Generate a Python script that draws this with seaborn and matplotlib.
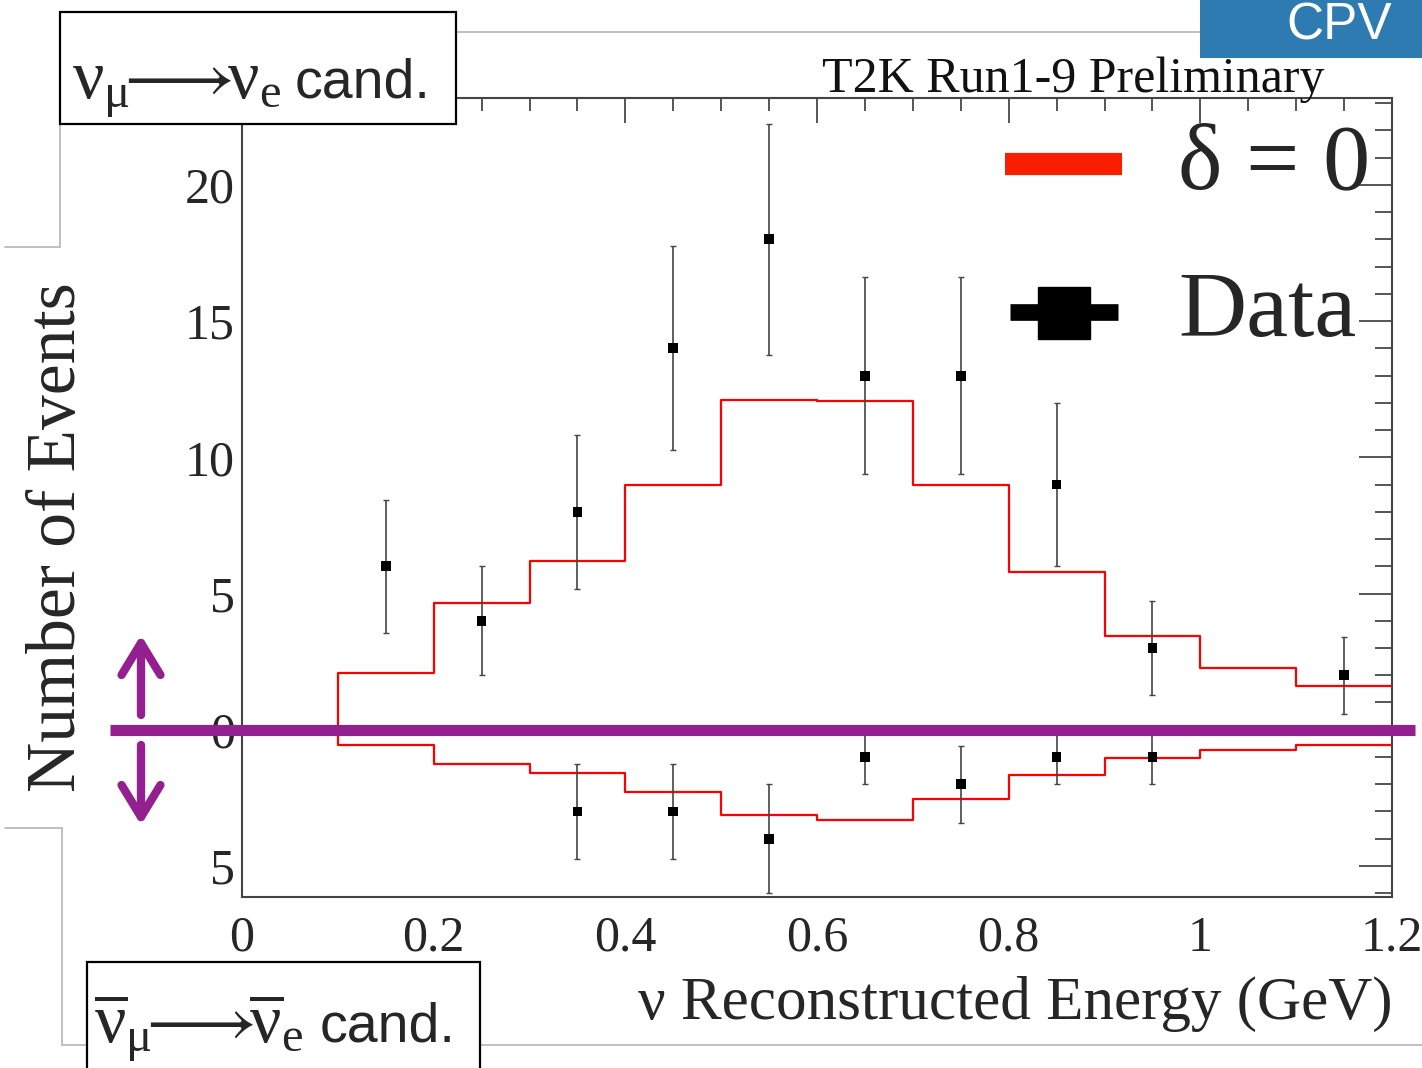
import numpy as np
import seaborn as sns
import matplotlib.pyplot as plt
from matplotlib.lines import Line2D
from matplotlib.patches import Rectangle
from matplotlib.ticker import MultipleLocator, FuncFormatter

sns.set_style('white')
plt.rcParams['font.family'] = ['Liberation Serif', 'DejaVu Serif']
plt.rcParams['mathtext.fontset'] = 'custom'
plt.rcParams['mathtext.rm'] = 'Liberation Serif'
plt.rcParams['mathtext.it'] = 'Liberation Serif:italic'
plt.rcParams['mathtext.fallback'] = 'stix'

# histogram bin edges (GeV) and predicted events for delta = 0
bin_edges = [0.0, 0.1, 0.2, 0.3, 0.4, 0.5, 0.6, 0.7, 0.8, 0.9, 1.0, 1.1, 1.2]
nue_pred = [0.0, 2.1, 4.65, 6.2, 9.0, 12.1, 12.05, 8.97, 5.8, 3.45, 2.27, 1.6]
# antineutrino sample drawn downwards
nuebar_pred = [0.0, -0.56, -1.24, -1.6, -2.3, -3.12, -3.3, -2.55, -1.67, -1.05, -0.75, -0.56]

# observed data
nue_x = [0.15, 0.25, 0.35, 0.45, 0.55, 0.65, 0.75, 0.85, 0.95, 1.15]
nue_obs = [6, 4, 8, 14, 18, 13, 13, 9, 3, 2]
nue_err = [2.45, 2.0, 2.83, 3.74, 4.24, 3.61, 3.61, 3.0, 1.73, 1.41]
nuebar_x = [0.35, 0.45, 0.55, 0.65, 0.75, 0.85, 0.95]
nuebar_obs = [-3, -3, -4, -1, -2, -1, -1]
nuebar_err = [1.73, 1.73, 2.0, 1.0, 1.41, 1.0, 1.0]

W, H = 1422, 1068
purple = '#93208e'


def fx(px):
    return px / W


def fy(py):
    return 1 - py / H


fig = plt.figure(figsize=(W / 100, H / 100), dpi=100)
ax = fig.add_axes([fx(242), fy(897), fx(1392) - fx(242), fy(98) - fy(897)])

# predicted spectra as step lines
sns.lineplot(x=bin_edges, y=nue_pred + [nue_pred[-1]], drawstyle='steps-post',
             color='red', lw=1.6, ax=ax, zorder=3)
sns.lineplot(x=bin_edges, y=nuebar_pred + [nuebar_pred[-1]], drawstyle='steps-post',
             color='red', lw=1.6, ax=ax, zorder=3)

# data points
ax.errorbar(nue_x, nue_obs, yerr=nue_err, fmt='none', ecolor='#444444',
            elinewidth=1.2, capsize=2.5, zorder=4)
ax.errorbar(nuebar_x, nuebar_obs, yerr=nuebar_err, fmt='none', ecolor='#444444',
            elinewidth=1.2, capsize=2.5, zorder=4)
sns.scatterplot(x=nue_x + nuebar_x, y=nue_obs + nuebar_obs, marker='s', s=50,
                color='black', edgecolor='none', ax=ax, zorder=5)

ax.set_xlim(0, 1.2)
ax.set_ylim(-6.14, 23.19)

ax.xaxis.set_major_locator(MultipleLocator(0.2))
ax.xaxis.set_minor_locator(MultipleLocator(0.05))
ax.yaxis.set_major_locator(MultipleLocator(5))
ax.yaxis.set_minor_locator(MultipleLocator(1))
ax.xaxis.set_major_formatter(FuncFormatter(lambda v, p: f'{v:g}'))
ax.yaxis.set_major_formatter(FuncFormatter(lambda v, p: f'{abs(v):g}'))

ax.tick_params(which='both', direction='in', top=True, right=True,
               color='#555555', width=1.4, labelsize=36)
ax.xaxis.set_tick_params(which='major', length=18, pad=13)
ax.xaxis.set_tick_params(which='minor', length=9)
ax.yaxis.set_tick_params(which='major', length=24, pad=5)
ax.yaxis.set_tick_params(which='minor', length=12)
for s in ax.spines.values():
    s.set_color('#444444')
    s.set_linewidth(1.5)

ax.set_ylabel('Number of Events', fontsize=50, va='center')
ax.yaxis.set_label_coords((58 - 242) / 1150, (897 - 537) / 799)
ax.set_xlabel('ν Reconstructed Energy (GeV)', fontsize=44, loc='right')
ax.xaxis.set_label_coords(1.0, (897 - 976) / 799)

# purple zero line and arrows
ax.plot([(110 - 242) / 958.3, (1415 - 242) / 958.3], [0, 0], color=purple,
        lw=8, solid_capstyle='butt', clip_on=False, zorder=6)
for y0, y1 in [(715, 635), (745, 825)]:
    ax.annotate('', xy=(141, H - y1), xytext=(141, H - y0), xycoords='figure pixels',
                arrowprops=dict(arrowstyle='->,head_length=2.3,head_width=1.4',
                                lw=6, color=purple, shrinkA=0, shrinkB=0,
                                mutation_scale=10))

# legend drawn by hand
fig.add_artist(Line2D([fx(1005), fx(1122)], [fy(164), fy(164)], color='#fa1e00',
                      lw=16, solid_capstyle='butt'))
fig.add_artist(Line2D([fx(1010), fx(1118)], [fy(312), fy(312)], color='black',
                      lw=12, solid_capstyle='butt'))
fig.add_artist(Line2D([fx(1064)], [fy(313)], color='black', marker='s',
                      markersize=38, lw=0))
fig.text(fx(1178), fy(166), 'δ = 0', fontsize=68, va='center', ha='left')
fig.text(fx(1178), fy(314), 'Data', fontsize=68, va='center', ha='left')

fig.text(fx(1325), fy(92), 'T2K Run1-9 Preliminary', fontsize=36, ha='right',
         va='baseline', color='#111111')

# slide frame lines
gray_lines = [((456, 32), (1200, 32)), ((60, 124), (60, 247)), ((5, 247), (60, 247)),
              ((5, 828), (62, 828)), ((62, 828), (62, 1045)), ((62, 1045), (1422, 1045))]
for (xa, ya), (xb, yb) in gray_lines:
    fig.add_artist(Line2D([fx(xa), fx(xb)], [fy(ya), fy(yb)], color='#bbbbbb',
                          lw=1.3, zorder=0.5))

# sample boxes
fig.add_artist(Rectangle((fx(60), fy(124)), fx(396), 112 / H, facecolor='white',
                         edgecolor='black', lw=1.6, zorder=7))
fig.text(fx(72), fy(98), r'$\mathrm{\nu_{\mu}}\!\!\longrightarrow\!\!\mathrm{\nu_{e}}$',
         fontsize=50, ha='left', va='baseline', zorder=8)
fig.text(fx(295), fy(98), 'cand.', family='Liberation Sans', fontsize=40,
         ha='left', va='baseline', zorder=8)
fig.add_artist(Rectangle((fx(87), -0.01), fx(393), (1068 - 962) / H + 0.01,
                         facecolor='white', edgecolor='black', lw=1.6, zorder=7))
fig.text(fx(94), fy(1042),
         r'$\overline{\mathrm{\nu}}_{\mathrm{\mu}}\!\!\longrightarrow\!\!\overline{\mathrm{\nu}}_{\mathrm{e}}$',
         fontsize=50, ha='left', va='baseline', zorder=8)
fig.text(fx(320), fy(1042), 'cand.', family='Liberation Sans', fontsize=40,
         ha='left', va='baseline', zorder=8)

# CPV tag
fig.add_artist(Rectangle((fx(1200), fy(58)), fx(230), 58 / H, facecolor='#2e7bb1',
                         edgecolor='none', zorder=9))
fig.text(fx(1392), fy(40), 'CPV', family='Liberation Sans', fontsize=37,
         color='white', ha='right', va='baseline', zorder=10)

fig.savefig('out.png', dpi=100)
